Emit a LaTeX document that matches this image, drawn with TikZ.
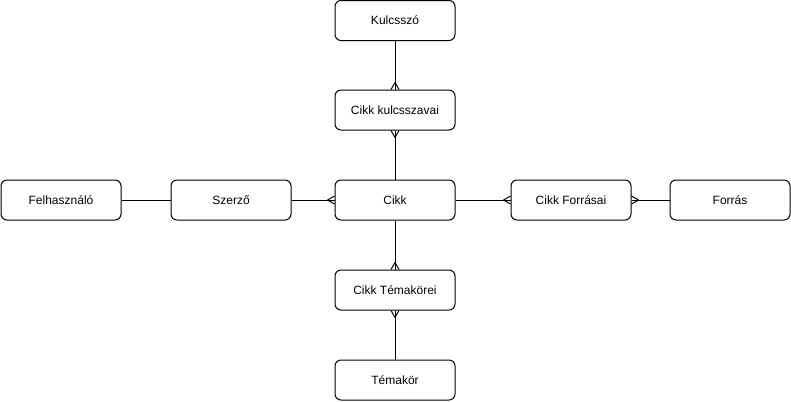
\documentclass[tikz,border=0pt]{standalone}
\usepackage{fontspec}
\setmainfont{Liberation Sans}
\usetikzlibrary{positioning, calc}

% crow's foot at a border point: #1 border, #2 apex offset, #3 half spread
\newcommand{\manyfoot}[3]{\draw ($#1+#2$) -- ($#1+#3$); \draw ($#1+#2$) -- ($#1-#3$);}

\begin{document}
\begin{tikzpicture}[x=0.75pt, y=-0.75pt, line width=0.75pt,
  entity/.style={draw, fill=white, rounded corners=4.5pt, minimum width=90pt, minimum height=30pt,
    inner sep=0pt, font=\fontsize{9}{11}\selectfont}]
\useasboundingbox (0,0) rectangle (791,401);

% entities
\node[entity] (kulcsszo) at (395,20.5) {Kulcsszó};
\node[entity] (kszavai) at (395,110) {Cikk kulcsszavai};
\node[entity] (cikk) at (395,200) {Cikk};
\node[entity] (temai) at (395,290) {Cikk Témakörei};
\node[entity] (temakor) at (395,380) {Témakör};
\node[entity] (felh) at (61,200) {Felhasználó};
\node[entity] (szerzo) at (231,200) {Szerző};
\node[entity] (forrasai) at (571,200) {Cikk Forrásai};
\node[entity] (forras) at (730,200) {Forrás};

% relations
\draw (kulcsszo) -- (kszavai);
\draw (kszavai) -- (cikk);
\draw (felh) -- (szerzo);
\draw (szerzo) -- (cikk);
\draw (cikk) -- (forrasai);
\draw (forrasai) -- (forras);
\draw (cikk) -- (temai);
\draw (temai) -- (temakor);

% many ends
\manyfoot{(kszavai.north)}{(0,-7)}{(4,0)}
\manyfoot{(kszavai.south)}{(0,7)}{(4,0)}
\manyfoot{(cikk.west)}{(-7,0)}{(0,4)}
\manyfoot{(forrasai.west)}{(-7,0)}{(0,4)}
\manyfoot{(forrasai.east)}{(7,0)}{(0,4)}
\manyfoot{(temai.north)}{(0,-7)}{(4,0)}
\manyfoot{(temai.south)}{(0,7)}{(4,0)}
\end{tikzpicture}
\end{document}
